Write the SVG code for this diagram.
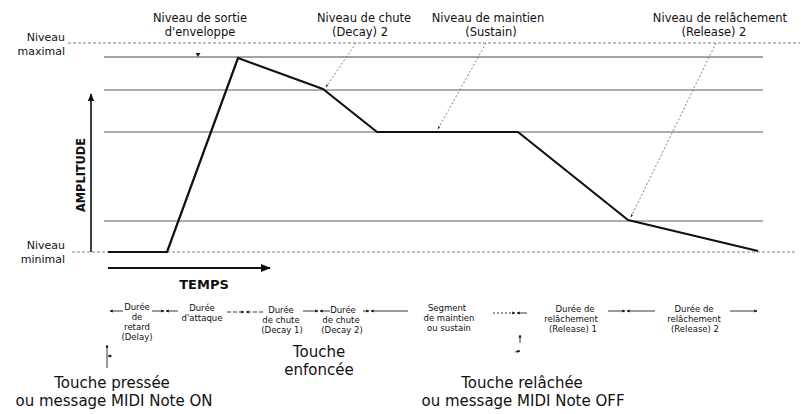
<svg xmlns="http://www.w3.org/2000/svg" width="804" height="414" viewBox="0 0 804 414">
<defs>
<marker id="ah" viewBox="0 0 10 10" refX="9" refY="5" markerWidth="5" markerHeight="5" orient="auto-start-reverse"><path d="M0,1 L10,5 L0,9 Z" fill="#111"/></marker>
<marker id="ahs" viewBox="0 0 10 10" refX="9" refY="5" markerWidth="4" markerHeight="4" orient="auto-start-reverse"><path d="M0,1 L10,5 L0,9 Z" fill="#333"/></marker>
<marker id="ahb" viewBox="0 0 10 10" refX="9" refY="5" markerWidth="3.4" markerHeight="3.4" orient="auto-start-reverse"><path d="M0,0 L10,5 L0,10 Z" fill="#111"/></marker>
</defs>
<style>
text{font-family:"DejaVu Sans","Liberation Sans",sans-serif;fill:#111}
.lvl{stroke:#4a4a4a;stroke-width:0.9;fill:none}
.dot{stroke:#777;stroke-width:0.9;stroke-dasharray:3 2;fill:none}
.env{stroke:#111;stroke-width:2.2;fill:none;stroke-linejoin:round}
.ann{stroke:#666;stroke-width:0.8;stroke-dasharray:2 2;fill:none;marker-end:url(#ahs)}
.dur{stroke:#222;stroke-width:0.9;fill:none}
.top{font-size:11.5px}
.side{font-size:11px}
.sm{font-size:8.5px}
.big{font-size:15px}
.ttl{font-size:13px;font-weight:bold}
</style>
<rect width="804" height="414" fill="#fff"/>
<g id="levels">
<line class="dot" x1="68" y1="43" x2="800" y2="43"/>
<line class="lvl" x1="104" y1="57" x2="763" y2="57" style="stroke:#333"/>
<line class="lvl" x1="104" y1="90" x2="763" y2="90"/>
<line class="lvl" x1="104" y1="132" x2="763" y2="132"/>
<line class="lvl" x1="104" y1="221" x2="763" y2="221"/>
<line class="dot" x1="72" y1="252" x2="797" y2="252"/>
</g>
<g id="envelope">
<polyline class="env" points="108,252 167,252 238,58 323,89 377,132 518,132 628,220 758,251"/>
</g>
<g id="axes">
<line x1="91" y1="252" x2="91" y2="94" stroke="#111" stroke-width="1.6" marker-end="url(#ah)"/>
<line x1="108" y1="268" x2="270" y2="268" stroke="#111" stroke-width="2" marker-end="url(#ah)"/>
<text class="ttl" transform="translate(85,175) rotate(-90)" text-anchor="middle" textLength="74" lengthAdjust="spacingAndGlyphs">AMPLITUDE</text>
<text class="ttl" x="204" y="289" text-anchor="middle">TEMPS</text>
</g>
<g id="label-max"><text class="side" x="65" y="41" text-anchor="end">Niveau</text><text class="side" x="65" y="55" text-anchor="end">maximal</text></g>
<g id="label-min"><text class="side" x="65" y="249" text-anchor="end">Niveau</text><text class="side" x="65" y="263" text-anchor="end">minimal</text></g>
<g id="label-sortie"><text class="top" x="200" y="22" text-anchor="middle">Niveau de sortie</text><text class="top" x="200" y="36" text-anchor="middle">d'enveloppe</text></g>
<g id="label-decay2"><text class="top" x="364" y="22" text-anchor="middle">Niveau de chute</text><text class="top" x="360" y="36" text-anchor="middle">(Decay) 2</text></g>
<g id="label-sustain"><text class="top" x="488" y="22" text-anchor="middle">Niveau de maintien</text><text class="top" x="491" y="36" text-anchor="middle">(Sustain)</text></g>
<g id="label-release2"><text class="top" x="720" y="22" text-anchor="middle">Niveau de relâchement</text><text class="top" x="714" y="36" text-anchor="middle">(Release) 2</text></g>
<g id="connectors">
<path d="M195.5,53 L200.5,53 L198,57 Z" fill="#222"/>
<line class="ann" x1="356" y1="43" x2="326" y2="87"/>
<line class="ann" x1="486" y1="43" x2="438" y2="129"/>
<line class="ann" x1="716" y1="43" x2="631" y2="217"/>
<line class="dur" x1="123" y1="311" x2="110" y2="311" marker-end="url(#ahb)"/>
<line class="dur" x1="152" y1="311" x2="164" y2="311" marker-end="url(#ahb)"/>
<line class="dur" x1="178" y1="311" x2="166" y2="311" marker-end="url(#ahb)"/>
<line class="dur" x1="227" y1="312" x2="244" y2="312" marker-end="url(#ahb)" stroke-dasharray="4 2"/>
<line class="dur" x1="263" y1="312" x2="246" y2="312" marker-end="url(#ahb)" stroke-dasharray="4 2"/>
<line class="dur" x1="303" y1="311" x2="318" y2="311" marker-end="url(#ahb)"/>
<line class="dur" x1="330" y1="311" x2="320" y2="311" marker-end="url(#ahb)"/>
<line class="dur" x1="363" y1="311" x2="369" y2="311" marker-end="url(#ahb)"/>
<line class="dur" x1="408" y1="311" x2="371" y2="311" marker-end="url(#ahb)"/>
<line class="dur" x1="493" y1="313" x2="515" y2="313" marker-end="url(#ahb)" stroke-dasharray="2 2"/>
<line class="dur" x1="527" y1="313" x2="517" y2="313" marker-end="url(#ahb)"/>
<line class="dur" x1="608" y1="311" x2="625" y2="311" marker-end="url(#ahb)"/>
<line class="dur" x1="655" y1="311" x2="627" y2="311" marker-end="url(#ahb)"/>
<line class="dur" x1="730" y1="311" x2="757" y2="311" marker-end="url(#ahb)"/>
<line class="dur" x1="107" y1="368" x2="107" y2="345" marker-end="url(#ahb)"/>
<line class="dur" x1="112" y1="356" x2="108" y2="356" marker-end="url(#ahb)"/>
<line class="dur" x1="520" y1="343" x2="520" y2="335" marker-end="url(#ahb)"/>
<line class="dur" x1="515" y1="352" x2="520" y2="351" marker-end="url(#ahb)"/>
</g>
<g id="dur-delay"><text class="sm" x="137" y="310" text-anchor="middle">Durée</text><text class="sm" x="137" y="320" text-anchor="middle">de</text><text class="sm" x="137" y="330" text-anchor="middle">retard</text><text class="sm" x="137" y="340" text-anchor="middle">(Delay)</text></g>
<g id="dur-attack"><text class="sm" x="202" y="311" text-anchor="middle">Durée</text><text class="sm" x="202" y="321" text-anchor="middle">d'attaque</text></g>
<g id="dur-decay1"><text class="sm" x="281" y="313" text-anchor="middle">Durée</text><text class="sm" x="281" y="323" text-anchor="middle">de chute</text><text class="sm" x="282" y="333" text-anchor="middle">(Decay 1)</text></g>
<g id="dur-decay2"><text class="sm" x="343" y="313" text-anchor="middle">Durée</text><text class="sm" x="341" y="323" text-anchor="middle">de chute</text><text class="sm" x="342" y="333" text-anchor="middle">(Decay 2)</text></g>
<g id="dur-sustain"><text class="sm" x="447" y="311" text-anchor="middle">Segment</text><text class="sm" x="449" y="321" text-anchor="middle">de maintien</text><text class="sm" x="449" y="331" text-anchor="middle">ou sustain</text></g>
<g id="dur-release1"><text class="sm" x="575" y="312" text-anchor="middle">Durée de</text><text class="sm" x="571" y="322" text-anchor="middle">relâchement</text><text class="sm" x="573" y="332" text-anchor="middle">(Release) 1</text></g>
<g id="dur-release2"><text class="sm" x="694" y="312" text-anchor="middle">Durée de</text><text class="sm" x="694" y="322" text-anchor="middle">relâchement</text><text class="sm" x="695" y="332" text-anchor="middle">(Release) 2</text></g>
<g id="touche-enfoncee"><text class="big" x="319" y="357" text-anchor="middle">Touche</text><text class="big" x="319" y="375" text-anchor="middle">enfoncée</text></g>
<g id="touche-pressee"><text class="big" x="112" y="388" text-anchor="middle">Touche pressée</text><text class="big" x="114" y="406" text-anchor="middle">ou message MIDI Note ON</text></g>
<g id="touche-relachee"><text class="big" x="522" y="388" text-anchor="middle">Touche relâchée</text><text class="big" x="523" y="406" text-anchor="middle">ou message MIDI Note OFF</text></g>
</svg>
